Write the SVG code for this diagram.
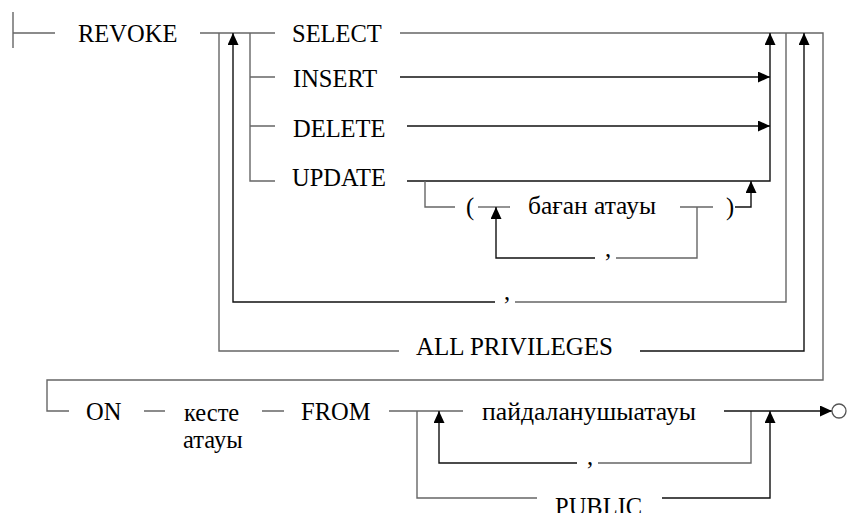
<svg xmlns="http://www.w3.org/2000/svg" width="849" height="513" viewBox="0 0 849 513">
  <defs>
    <marker id="arrow" markerWidth="12" markerHeight="11" refX="12" refY="5.5" orient="auto" markerUnits="userSpaceOnUse">
      <path d="M0,0 L12,5.5 L0,11 z" fill="#000"/>
    </marker>
    <style>
      .t { font-family: "Liberation Serif", "Times New Roman", serif; font-size: 24.5px; fill: #000; }
      .g { fill: none; stroke: #666; stroke-width: 1.4; }
      .k { fill: none; stroke: #111; stroke-width: 1.4; }
      .a { marker-end: url(#arrow); }
    </style>
  </defs>
  <rect width="849" height="513" fill="#fff"/>

  <g id="connectors">
    <!-- entry bar -->
    <path class="g" d="M13,12 V48 M13,33 H55"/>
    <!-- REVOKE to privilege choices -->
    <path class="g" d="M200,33 H275"/>
    <path class="g" d="M250,33 V181 H275 M250,77 H275 M250,126 H275"/>
    <!-- SELECT run, wrap to ON line -->
    <path class="g" d="M400,33 H823 V380 H47 V411 H69"/>
    <!-- INSERT / DELETE -->
    <path class="k a" d="M400,77 H770"/>
    <path class="k a" d="M407,126 H770"/>
    <!-- UPDATE -->
    <path class="k a" d="M407,181 H770 V33"/>
    <path class="g" d="M425,181 V207 H455"/>
    <path class="g" d="M478,207 H510"/>
    <path class="g" d="M680,207 H713"/>
    <!-- column name repeat -->
    <path class="g" d="M697,207 V258 H616"/>
    <path class="k a" d="M595,258 H496 V207"/>
    <path class="k a" d="M735,207 H751 V181"/>
    <!-- privilege list repeat -->
    <path class="g" d="M786,33 V302 H515"/>
    <path class="k a" d="M495,302 H233 V33"/>
    <!-- ALL PRIVILEGES -->
    <path class="g" d="M219,33 V351 H399"/>
    <path class="k a" d="M640,351 H804 V33"/>
    <!-- ON ... FROM -->
    <path class="g" d="M144,411 H165 M262,411 H284 M389,411 H463"/>
    <path class="g" d="M417,411 V498 H537"/>
    <path class="k a" d="M662,498 H770 V411"/>
    <path class="g" d="M751,411 V463 H598"/>
    <path class="k a" d="M577,463 H439 V411"/>
    <path class="k a" d="M724,411 H832"/>
    <circle cx="839" cy="411" r="7" fill="#fff" stroke="#555" stroke-width="1.3"/>
  </g>

  <g id="revoke"><text class="t" x="78" y="42">REVOKE</text></g>
  <g id="select"><text class="t" x="292" y="42">SELECT</text></g>
  <g id="insert"><text class="t" x="293" y="87">INSERT</text></g>
  <g id="delete"><text class="t" x="293" y="137">DELETE</text></g>
  <g id="update"><text class="t" x="292" y="186">UPDATE</text></g>
  <g id="lparen"><text class="t" x="466" y="215">(</text></g>
  <g id="column-name"><text class="t" x="528" y="214" textLength="128" lengthAdjust="spacingAndGlyphs">баған атауы</text></g>
  <g id="rparen"><text class="t" x="726" y="215">)</text></g>
  <g id="column-comma"><text class="t" x="605" y="257">,</text></g>
  <g id="privilege-comma"><text class="t" x="504" y="300">,</text></g>
  <g id="all-privileges"><text class="t" x="416" y="355" textLength="197" lengthAdjust="spacingAndGlyphs">ALL PRIVILEGES</text></g>
  <g id="on"><text class="t" x="86" y="420">ON</text></g>
  <g id="table-name"><text class="t" x="184" y="421">кесте</text><text class="t" x="183" y="448">атауы</text></g>
  <g id="from"><text class="t" x="301" y="420">FROM</text></g>
  <g id="user-name"><text class="t" x="482" y="420" textLength="214" lengthAdjust="spacingAndGlyphs">пайдаланушыатауы</text></g>
  <g id="user-comma"><text class="t" x="587" y="465">,</text></g>
  <g id="public"><text class="t" x="555" y="515">PUBLIC</text></g>
</svg>
